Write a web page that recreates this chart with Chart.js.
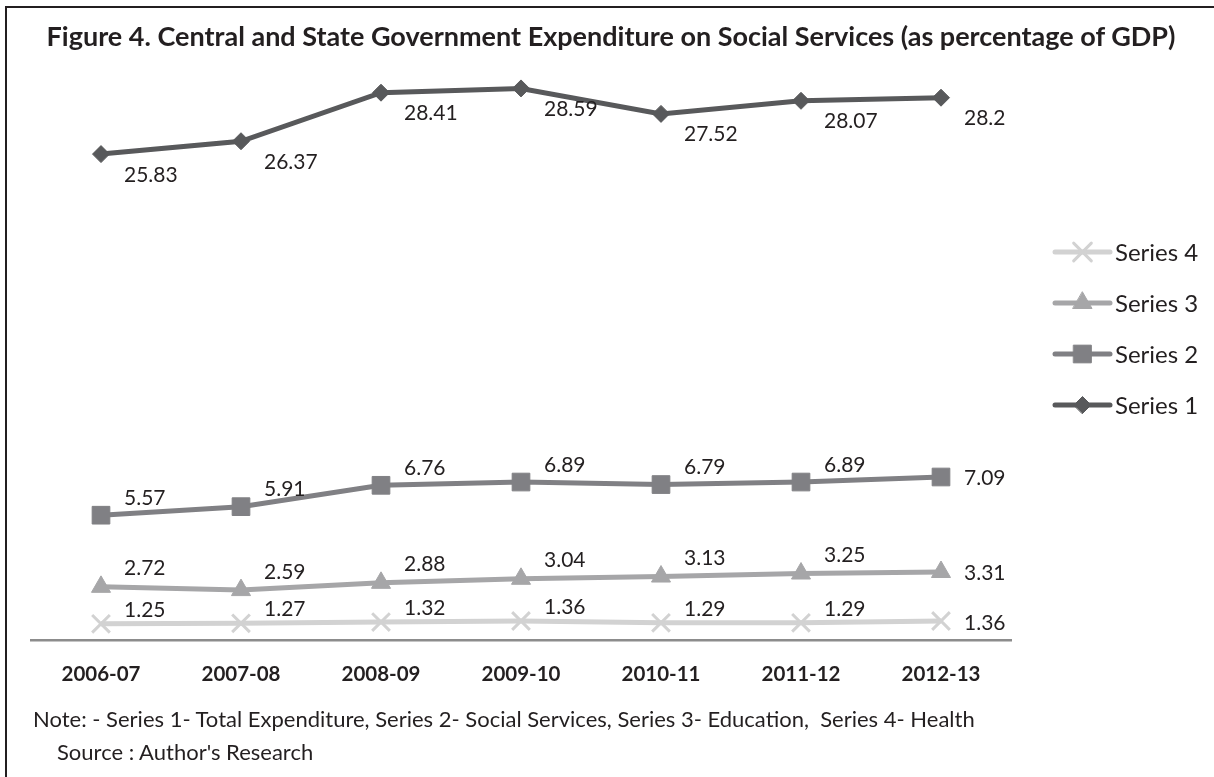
<!DOCTYPE html>
<html>
<head>
<meta charset="utf-8">
<script src="https://cdn.jsdelivr.net/npm/chart.js@4.4.1/dist/chart.umd.min.js"></script>
<style>
  html, body { margin: 0; padding: 0; background: #fff; overflow: hidden; }
  body { width: 1214px; height: 777px; position: relative; font-family: Lato, "Open Sans", sans-serif; color: #231f20; }
  #frame { position: absolute; left: 5px; top: 6px; width: 1300px; height: 900px;
           border-left: 2px solid #231f20; border-top: 2px solid #231f20; }
  #chart-wrap { position: absolute; left: 0; top: 0; width: 1214px; height: 777px; }
  .txt { position: absolute; white-space: pre; line-height: 1.2; }
  #title { left: 0; width: 1222px; top: 20px; text-align: center; font-weight: bold; font-size: 27px; }
  #note { left: 33px; top: 706px; font-size: 22px; }
  #source { left: 57px; top: 739px; font-size: 22px; }
</style>
</head>
<body>
<div id="chart-wrap"><canvas id="social-chart" width="1214" height="777"></canvas></div>
<div id="frame"></div>
<div class="txt" id="title">Figure 4. Central and State Government Expenditure on Social Services (as percentage of GDP)</div>
<div class="txt" id="note">Note: - Series 1- Total Expenditure, Series 2- Social Services, Series 3- Education,  Series 4- Health</div>
<div class="txt" id="source">Source : Author's Research</div>
<script>
// Values (percent of GDP).
const categories = ["2006-07", "2007-08", "2008-09", "2009-10", "2010-11", "2011-12", "2012-13"];
const seriesNames = ["Series 1", "Series 2", "Series 3", "Series 4"];
const series1 = [25.83, 26.37, 28.41, 28.59, 27.52, 28.07, 28.2];
const series2 = [5.57, 5.91, 6.76, 6.89, 6.79, 6.89, 7.09];
const series3 = [2.72, 2.59, 2.88, 3.04, 3.13, 3.25, 3.31];
const series4 = [1.25, 1.27, 1.32, 1.36, 1.29, 1.29, 1.36];

const TEXT = "#231f20";
const FONT = "Lato, 'Open Sans', sans-serif";

// Value labels to the right of each point; the last point of the small
// series sits level with the marker.
const valueLabels = {
    id: "valueLabels",
    afterDatasetsDraw(chart) {
        const ctx = chart.ctx;
        ctx.save();
        ctx.font = "21px " + FONT;
        ctx.fillStyle = TEXT;
        ctx.textAlign = "left";
        ctx.textBaseline = "alphabetic";
        chart.data.datasets.forEach((ds, i) => {
            const meta = chart.getDatasetMeta(i);
            meta.data.forEach((pt, j) => {
                const last = j === meta.data.length - 1;
                const dy = last && ds.labelLastDy !== undefined ? ds.labelLastDy : ds.labelDy;
                ctx.fillText(String(ds.data[j]), pt.x + 23, pt.y + dy + 7.5);
            });
        });
        ctx.restore();
    }
};

// Excel-style legend: short line with the marker in the middle, reversed order.
const lineLegend = {
    id: "lineLegend",
    afterDraw(chart) {
        const ctx = chart.ctx;
        const area = chart.chartArea;
        const x0 = area.right + 44;
        const len = 55;
        let y = area.top + 177;
        ctx.save();
        ctx.font = "24px " + FONT;
        ctx.textBaseline = "alphabetic";
        const order = chart.data.datasets.map((d, i) => i).reverse();
        order.forEach(i => {
            const ds = chart.data.datasets[i];
            ctx.strokeStyle = ds.borderColor;
            ctx.lineWidth = ds.borderWidth;
            ctx.lineCap = "round";
            ctx.beginPath();
            ctx.moveTo(x0, y);
            ctx.lineTo(x0 + len, y);
            ctx.stroke();
            ctx.fillStyle = ds.pointBackgroundColor;
            ctx.strokeStyle = ds.pointBorderColor;
            ctx.lineWidth = ds.pointBorderWidth;
            Chart.helpers.drawPoint(ctx, {
                pointStyle: ds.pointStyle, radius: ds.pointRadius, rotation: 0, borderWidth: ds.pointBorderWidth
            }, x0 + len / 2, y);
            ctx.fillStyle = TEXT;
            ctx.fillText(ds.label, x0 + len + 5, y + 8.5);
            y += 51;
        });
        ctx.restore();
    }
};

function lineSet(label, data, color, style, radius, axis, dy, lastDy, markerWidth) {
    return {
        label: label,
        data: data,
        yAxisID: axis,
        borderColor: color,
        backgroundColor: color,
        borderWidth: 5,
        pointStyle: style,
        pointRadius: radius,
        pointHoverRadius: radius,
        pointBackgroundColor: color,
        pointBorderColor: color,
        pointBorderWidth: markerWidth || 1,
        tension: 0,
        fill: false,
        labelDy: dy,
        labelLastDy: lastDy,
    };
}

new Chart(document.getElementById("social-chart"), {
    type: "line",
    data: {
        labels: categories,
        datasets: [
            lineSet(seriesNames[0], series1, "#58595b", "rectRot", 8.5, "y1", 20),
            lineSet(seriesNames[1], series2, "#808084", "rect", 12.5, "y", -18, 0),
            lineSet(seriesNames[2], series3, "#a6a6a8", "triangle", 11, "y", -19, 0),
            lineSet(seriesNames[3], series4, "#d2d2d2", "crossRot", 12.5, "y", -14.5, 1.5, 3),
        ],
    },
    options: {
        responsive: false,
        animation: false,
        layout: { padding: { left: 31, right: 203, top: 75, bottom: 68 } },
        plugins: {
            legend: { display: false },
            title: { display: false },
            tooltip: { enabled: false },
        },
        scales: {
            x: {
                offset: true,
                grid: { display: false, drawTicks: false },
                border: { display: true, color: "#8c8c8c", width: 2.5 },
                ticks: {
                    color: TEXT,
                    padding: 22,
                    font: { family: FONT, size: 20.5, weight: "bold" },
                },
            },
            // Series 2-4 and Series 1 each have their own hidden scale, as in the figure.
            y: { display: false, min: 0.589, max: 23.084 },
            y1: { display: false, min: 5.39, max: 29.154 },
        },
    },
    plugins: [valueLabels, lineLegend],
});
</script>
</body>
</html>
